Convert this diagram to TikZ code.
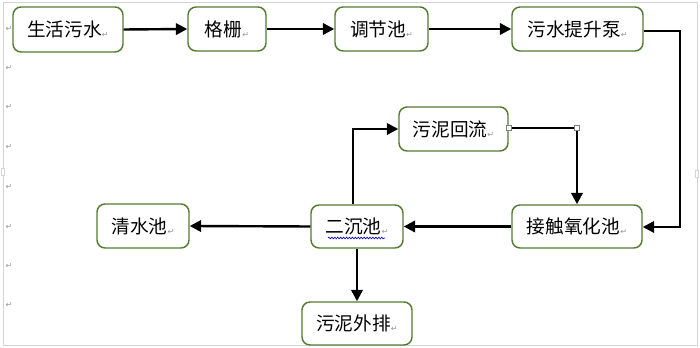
\documentclass[tikz,border=0pt]{standalone}
\usepackage{fontspec}
\newfontfamily\cjk{Noto Sans CJK SC}
\newfontfamily\djv{DejaVu Sans}
\usetikzlibrary{arrows.meta,decorations.pathmorphing}
\definecolor{boxgreen}{RGB}{84,124,48}
\definecolor{framegray}{RGB}{212,212,212}
\definecolor{markgray}{RGB}{150,150,150}
\newcommand{\pmark}{{\djv\fontsize{6}{6}\selectfont\color{markgray}\raisebox{-0.3ex}{↵}}}
\tikzset{
  procbox/.style={draw=boxgreen, line width=1.1pt, rounded corners=6pt, fill=white,
    inner sep=0pt, font=\cjk\fontsize{14}{14}\selectfont},
  flow/.style={line width=1.8pt, -{Triangle[length=8.5pt,width=8.5pt]}},
  flowline/.style={line width=1.8pt},
  handle/.style={draw=gray, fill=white, line width=0.4pt, minimum size=4pt, inner sep=0pt},
  lmark/.style={inner sep=0pt}
}
\begin{document}
\begin{tikzpicture}[x=0.75pt,y=-0.75pt]
\useasboundingbox (0,0) rectangle (700,348);
\fill[white] (0,0) rectangle (700,348);
% canvas frame
\draw[framegray, line width=0.7pt] (3,2) rectangle (697,345);
\node[draw=framegray, fill=white, minimum width=2pt, minimum height=5pt, inner sep=0pt] (hl) at (3,172) {};
\node[draw=framegray, fill=white, minimum width=2pt, minimum height=5pt, inner sep=0pt] (hr) at (697,174) {};
% left margin paragraph marks
\foreach \yy [count=\k] in {29,68,107,147,187,227,266,305} {
  \node[lmark] (m\k) at (9,\yy) {\pmark};
}
% boxes
\node[procbox, minimum width=110*0.75pt, minimum height=45*0.75pt] (a) at (68,29.5) {生活污水\pmark};
\node[procbox, minimum width=78*0.75pt, minimum height=44*0.75pt] (b) at (227,29) {格栅\pmark};
\node[procbox, minimum width=93*0.75pt, minimum height=44*0.75pt] (c) at (381.5,29) {调节池\pmark};
\node[procbox, minimum width=131*0.75pt, minimum height=44*0.75pt] (d) at (577.5,29) {污水提升泵\pmark};
\node[procbox, minimum width=109*0.75pt, minimum height=44*0.75pt] (f) at (453.5,129) {污泥回流\pmark};
\node[procbox, minimum width=130*0.75pt, minimum height=43*0.75pt] (e) at (577,226.5) {接触氧化池\pmark};
\node[procbox, minimum width=92*0.75pt, minimum height=43*0.75pt] (g) at (357,226.5) {二沉池\pmark};
\node[procbox, minimum width=92*0.75pt, minimum height=44*0.75pt] (h) at (143,226) {清水池\pmark};
\node[procbox, minimum width=110*0.75pt, minimum height=43*0.75pt] (i) at (357,323.5) {污泥外排\pmark};
% spell-check wavy underline
\coordinate (wl) at (328,238);
\coordinate (wr) at (385,238);
\draw[blue!80!black, line width=0.5pt, decorate, decoration={snake, amplitude=0.6pt, segment length=2.2pt}] (wl) -- (wr);
% connectors
\draw[flow] (a.east) -- (b.west);
\draw[flow] (b.east) -- (c.west);
\draw[flow] (c.east) -- (d.west);
\coordinate (r1) at (680,31);
\coordinate (r2) at (680,227);
\draw[flow] (d.east |- r1) -- (r1) -- (r2) -- (e.east |- r2);
\coordinate (fr) at (577,128);
\draw[flow] (f.east |- fr) -- (fr) -- (e.north -| fr);
\draw[flow] (e.west) -- (g.east);
\draw[flow] (g.west) -- (h.east);
\coordinate (gup) at (353,129);
\draw[flow] (g.north -| gup) -- (gup) -- (f.west);
\draw[flow] (g.south) -- (i.north);
% selection handles on the return connector
\node[handle] (h1) at (f.east |- fr) {};
\node[handle] (h2) at (fr) {};
\end{tikzpicture}
\end{document}
